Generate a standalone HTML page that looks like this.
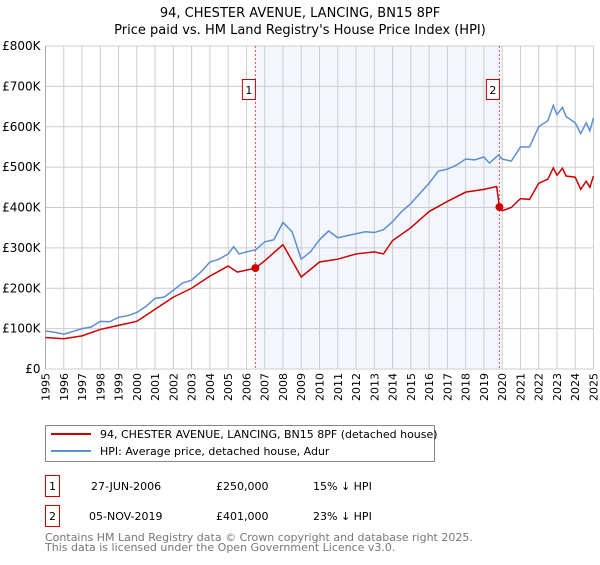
<!DOCTYPE html>
<html><head><meta charset="utf-8"><style>
body{margin:0;background:#fff;font-family:"Liberation Sans","DejaVu Sans",sans-serif}
svg text{font-family:"DejaVu Sans","Liberation Sans",sans-serif}
</style></head><body>
<svg id="c" width="600" height="560">
<text x="300" y="17" text-anchor="middle" font-size="13">94, CHESTER AVENUE, LANCING, BN15 8PF</text>
<text x="300" y="34" text-anchor="middle" font-size="13">Price paid vs. HM Land Registry's House Price Index (HPI)</text>
<g id="plot"></g>
<g>
<rect x="45.5" y="425.5" width="389" height="36" fill="#fff" stroke="#888"/>
<line x1="51" y1="434" x2="91" y2="434" stroke="#cc0000" stroke-width="2"/>
<text x="100" y="438" font-size="11">94, CHESTER AVENUE, LANCING, BN15 8PF (detached house)</text>
<line x1="51" y1="451" x2="91" y2="451" stroke="#5b8fd1" stroke-width="2"/>
<text x="100" y="455" font-size="11">HPI: Average price, detached house, Adur</text>
</g>
<g font-size="11">
<rect x="45.5" y="475.5" width="14" height="21" fill="#fff" stroke="#cc0000"/><text x="52.5" y="490" text-anchor="middle">1</text>
<text x="91" y="490">27-JUN-2006</text><text x="216" y="490">£250,000</text><text x="313" y="490">15% ↓ HPI</text>
<rect x="45.5" y="505.5" width="14" height="21" fill="#fff" stroke="#cc0000"/><text x="52.5" y="520" text-anchor="middle">2</text>
<text x="89" y="520">05-NOV-2019</text><text x="216" y="520">£401,000</text><text x="313" y="520">23% ↓ HPI</text>
</g>
<text x="45" y="541" font-size="11" fill="#777">Contains HM Land Registry data © Crown copyright and database right 2025.</text>
<text x="45" y="551" font-size="11" fill="#777">This data is licensed under the Open Government Licence v3.0.</text>
</svg>
<script>
const hpiYears=[1995,1995.5,1996,1996.5,1997,1997.5,1998,1998.5,1999,1999.5,2000,2000.5,2001,2001.5,2002,2002.5,2003,2003.5,2004,2004.5,2005,2005.3,2005.6,2006,2006.5,2007,2007.5,2008,2008.5,2009,2009.5,2010,2010.5,2011,2011.5,2012,2012.5,2013,2013.5,2014,2014.5,2015,2015.5,2016,2016.5,2017,2017.5,2018,2018.5,2019,2019.3,2019.8,2020,2020.5,2021,2021.5,2022,2022.5,2022.8,2023,2023.3,2023.5,2024,2024.3,2024.6,2024.8,2025];
const hpiValues=[94,91,86,93,100,104,118,117,128,132,140,155,175,178,195,213,220,240,265,272,285,303,285,290,295,315,320,363,340,272,290,320,342,325,330,335,340,338,345,365,390,410,435,460,490,495,505,520,518,525,510,530,520,515,550,550,600,615,653,630,648,625,610,583,610,590,622];
const redYears=[1995,1996,1997,1998,1999,2000,2001,2002,2003,2004,2005,2005.5,2006,2006.49,2007,2008,2009,2010,2011,2012,2013,2013.5,2014,2015,2016,2017,2018,2019,2019.7,2019.85,2020,2020.5,2021,2021.5,2022,2022.5,2022.8,2023,2023.3,2023.5,2024,2024.3,2024.6,2024.8,2025];
const redValues=[78,75,82,98,108,118,148,178,200,230,255,240,245,250,268,308,228,265,272,285,290,285,318,350,390,415,438,445,452,401,392,400,422,420,460,470,498,480,497,478,475,445,465,450,478];
const saleYears=[2006.49,2019.85];
const saleValues=[250,401];
const saleLabels=["1","2"];
const yTicks=[0,100,200,300,400,500,600,700,800];
const yTickLabels=["£0","£100K","£200K","£300K","£400K","£500K","£600K","£700K","£800K"];
const xTicks=[1995,1996,1997,1998,1999,2000,2001,2002,2003,2004,2005,2006,2007,2008,2009,2010,2011,2012,2013,2014,2015,2016,2017,2018,2019,2020,2021,2022,2023,2024,2025];

const X0=45.5,X1=593.5,Y0=369,Y1=46;
const xs=y=>X0+(y-1995)/30*(X1-X0);
const ys=v=>Y0-v/800*(Y0-Y1);
const g=document.getElementById('plot');
const NS='http://www.w3.org/2000/svg';
function mk(t,a){const e=document.createElementNS(NS,t);for(const k in a)e.setAttribute(k,a[k]);g.appendChild(e);return e;}
const sh=mk('rect',{x:xs(saleYears[0]),y:Y1,width:xs(saleYears[1])-xs(saleYears[0]),height:Y0-Y1,fill:'#eef3fc',opacity:0.7});


xTicks.forEach(t=>{
 const l=mk('line',{x1:xs(t),x2:xs(t),y1:Y1,y2:Y0,stroke:'#ccc'});
 
 
 const tx=mk('text',{x:0,y:0,'font-size':11,'text-anchor':'end',transform:`translate(${xs(t)+4},373) rotate(-90)`});
 tx.textContent=t;
 
 
});
yTicks.forEach((t,i)=>{
 const l=mk('line',{x1:X0,x2:X1,y1:ys(t),y2:ys(t),stroke:'#ccc'});
 
 
 const tx=mk('text',{x:X0-5,y:ys(t)+4,'font-size':12,'text-anchor':'end'});
 tx.textContent=yTickLabels[i];
 
 
});
const ax=mk('line',{x1:X0,x2:X0,y1:Y1,y2:Y0,stroke:'#aaa'});


saleYears.forEach((s,i)=>{
 const l=mk('line',{x1:xs(s),x2:xs(s),y1:Y1,y2:Y0,stroke:'#e05050','stroke-dasharray':'2,2'});
 
 
 const r=mk('rect',{x:xs(s)-13,y:79.5,width:13,height:20,fill:'#fff',stroke:'#cc0000'});
 
 
 const t=mk('text',{x:xs(s)-6.5,y:94,'font-size':11,'text-anchor':'middle'});
 t.textContent=saleLabels[i];
 
 
});
const hp=mk('polyline',{points:hpiYears.map((y,i)=>xs(y)+','+ys(hpiValues[i])).join(' '),fill:'none',stroke:'#5b8fd1','stroke-width':1.5});


const rp=mk('polyline',{points:redYears.map((y,i)=>xs(y)+','+ys(redValues[i])).join(' '),fill:'none',stroke:'#cc0000','stroke-width':1.5});


saleYears.forEach((s,i)=>{
 const c=mk('circle',{cx:xs(s),cy:ys(saleValues[i]),r:4,fill:'#cc0000'});
 
 
});
</script>
</body></html>
